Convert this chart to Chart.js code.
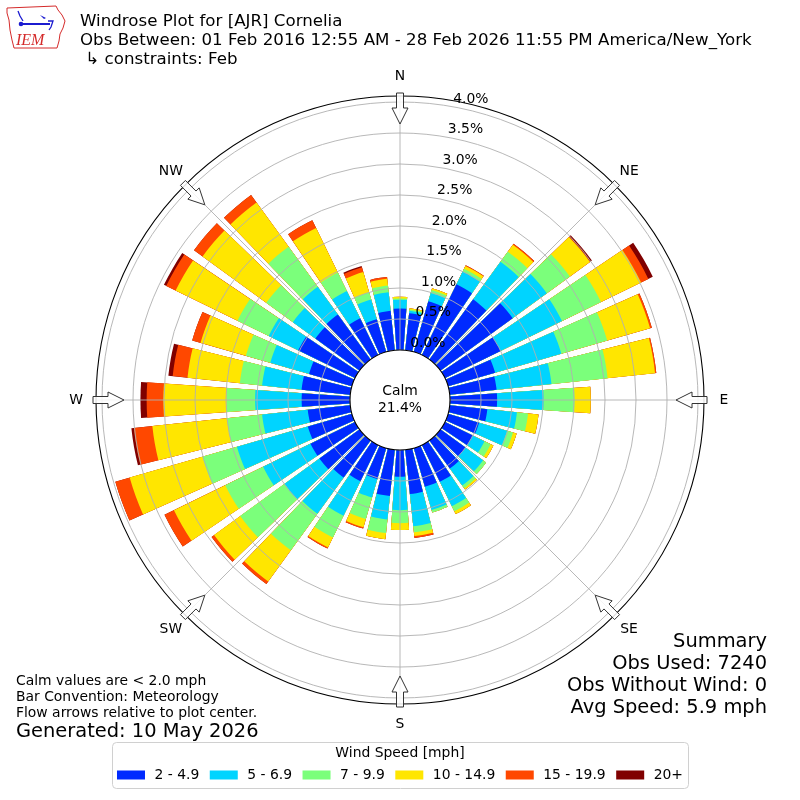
<!DOCTYPE html>
<html><head><meta charset="utf-8">
<script src="https://cdn.jsdelivr.net/npm/chart.js@4.4.1/dist/chart.umd.min.js"></script>
<style>html,body{margin:0;padding:0;background:#fff;}canvas{display:block;}</style>
</head><body>
<canvas id="c" width="800" height="800" style="width:800px;height:800px"></canvas>
<script>
// ---------------- data ----------------
const directions = [0,10,20,30,40,50,60,70,80,90,100,110,120,130,140,150,160,170,180,190,200,210,220,230,240,250,260,270,280,290,300,310,320,330,340,350];
const speedBins = ['2 - 4.9','5 - 6.9','7 - 9.9','10 - 14.9','15 - 19.9','20+'];
const speedColors = ['#002aff','#00d4ff','#7bff7b','#ffe600','#ff4800','#800000'];
// percent of observations per direction (N, 10°, ... 350°)
const pct_2_5   = [0.67,0.60,0.85,1.27,1.20,1.44,1.00,0.79,0.76,0.76,0.61,0.52,0.50,0.50,0.56,0.66,0.65,0.72,0.43,0.75,0.52,0.65,0.74,0.80,0.80,0.74,0.69,0.78,0.79,0.72,1.02,0.88,0.90,0.66,0.55,0.64];
const pct_5_7   = [0.14,0.04,0.14,0.23,0.75,0.68,1.10,1.11,0.89,0.75,0.48,0.47,0.21,0.35,0.34,0.44,0.39,0.52,0.54,0.38,0.31,0.62,0.72,0.70,0.85,1.19,0.74,0.75,0.64,0.65,0.53,0.45,0.55,0.49,0.33,0.30];
const pct_7_10  = [0.02,0.02,0.05,0.05,0.20,0.46,0.70,0.77,0.91,0.50,0.18,0.10,0.11,0.06,0.05,0.09,0.04,0.10,0.21,0.22,0.36,0.39,0.73,0.88,0.68,0.58,0.57,0.46,0.36,0.41,0.56,0.53,0.80,0.33,0.12,0.11];
const pct_10_15 = [0.03,0.02,0.03,0.05,0.14,0.40,0.72,0.72,0.77,0.26,0.17,0.06,0.05,0.00,0.03,0.05,0.00,0.06,0.11,0.10,0.14,0.18,0.62,0.52,0.92,1.22,1.21,1.02,0.85,0.76,1.11,1.27,0.88,0.80,0.34,0.11];
const pct_15_20 = [0.00,0.00,0.00,0.01,0.02,0.01,0.13,0.03,0.02,0.00,0.00,0.00,0.00,0.00,0.00,0.00,0.00,0.03,0.00,0.00,0.02,0.02,0.05,0.05,0.17,0.24,0.30,0.27,0.24,0.14,0.17,0.17,0.15,0.14,0.08,0.03];
const pct_20p   = [0.00,0.00,0.00,0.00,0.00,0.03,0.08,0.00,0.00,0.00,0.00,0.00,0.00,0.00,0.00,0.00,0.00,0.00,0.00,0.00,0.00,0.00,0.00,0.00,0.00,0.00,0.04,0.10,0.07,0.00,0.04,0.00,0.00,0.00,0.02,0.00];
const radialTicks = [0,0.5,1.0,1.5,2.0,2.5,3.0,3.5,4.0];
const compassLabels = ['N','NE','E','SE','S','SW','W','NW'];
const calmPct = 21.4;
const titleLines = ['Windrose Plot for [AJR] Cornelia','Obs Between: 01 Feb 2016 12:55 AM - 28 Feb 2026 11:55 PM America/New_York',' \u21b3 constraints: Feb'];
const noteLines = ['Calm values are < 2.0 mph','Bar Convention: Meteorology','Flow arrows relative to plot center.'];
const generatedText = 'Generated: 10 May 2026';
const summaryLines = ['Summary','Obs Used: 7240','Obs Without Wind: 0','Avg Speed: 5.9 mph'];
const legendTitle = 'Wind Speed [mph]';

// ---------------- build chart data ----------------
const BAR_DEG = 8, GAP_DEG = 2;
const series = [pct_2_5, pct_5_7, pct_7_10, pct_10_15, pct_15_20, pct_20p];
const cumulative = series.map((_, k) => directions.map((_, d) => {
  let s = 0; for (let j = 0; j <= k; j++) s += series[j][d]; return s;
}));
const labels = [];
directions.forEach(d => { labels.push(d + '\u00b0'); labels.push(''); });
const datasets = speedBins.map((name, k) => ({
  label: name,
  data: cumulative[k].flatMap(v => [v, 0]),
  backgroundColor: ctx => (ctx.dataIndex % 2) ? 'rgba(0,0,0,0)' : speedColors[k],
  borderWidth: 0,
  angle: ctx => (ctx.dataIndex % 2) ? GAP_DEG : BAR_DEG
}));

const FONT = '"DejaVu Sans", sans-serif';
const RMIN = -50 / 62, RMAX = 254 / 62;

const decor = {
  id: 'decor',
  afterDraw(chart) {
    const c = chart.ctx, s = chart.scales.r;
    const cx = s.xCenter, cy = s.yCenter;
    const R = v => s.getDistanceFromCenterForValue(v);
    const rMax = s.drawingArea;
    const rad = d => d * Math.PI / 180;
    const pt = (deg, r) => [cx + r * Math.sin(rad(deg)), cy - r * Math.cos(rad(deg))];
    c.save();
    // angle grid lines
    c.strokeStyle = '#b0b0b0'; c.lineWidth = 0.9;
    for (let k = 0; k < 8; k++) {
      const [x, y] = pt(k * 45, rMax);
      c.beginPath(); c.moveTo(cx, cy); c.lineTo(x, y); c.stroke();
    }
    // outer spine
    c.strokeStyle = '#000'; c.lineWidth = 1.1;
    c.beginPath(); c.arc(cx, cy, rMax, 0, 2 * Math.PI); c.stroke();
    // calm circle
    const r0 = R(0);
    c.fillStyle = '#fff';
    c.beginPath(); c.arc(cx, cy, r0, 0, 2 * Math.PI); c.fill();
    c.strokeStyle = '#000'; c.lineWidth = 1.1; c.stroke();
    c.fillStyle = '#000'; c.font = '13.9px ' + FONT; c.textAlign = 'center'; c.textBaseline = 'middle';
    c.fillText('Calm', cx, cy - 8.5);
    c.fillText(calmPct.toFixed(1) + '%', cx, cy + 8.5);
    // radial tick labels
    c.textAlign = 'left';
    radialTicks.forEach(v => {
      const [x, y] = pt(10, R(v));
      c.fillText(v.toFixed(1) + '%', x + 1.5, y - 7.6);
    });
    // compass arrows & labels
    compassLabels.forEach((lab, k) => {
      const th = rad(k * 45);
      const u = [Math.sin(th), -Math.cos(th)], w = [Math.cos(th), Math.sin(th)];
      const P = (r, o) => [cx + r * u[0] + o * w[0], cy + r * u[1] + o * w[1]];
      const poly = [P(307, -3.5), P(307, 3.5), P(292, 3.5), P(292, 8), P(276, 0), P(292, -8), P(292, -3.5)];
      c.beginPath(); poly.forEach((p, i) => i ? c.lineTo(p[0], p[1]) : c.moveTo(p[0], p[1])); c.closePath();
      c.fillStyle = 'rgba(255,255,255,0.85)'; c.fill();
      c.strokeStyle = '#333'; c.lineWidth = 1; c.stroke();
      const [lx, ly] = pt(k * 45, 324);
      c.fillStyle = '#000'; c.textAlign = 'center'; c.textBaseline = 'middle'; c.font = '13.9px ' + FONT;
      c.fillText(lab, lx, ly);
    });
    // title
    c.textAlign = 'left'; c.textBaseline = 'alphabetic'; c.fillStyle = '#000';
    c.font = '16.67px ' + FONT;
    titleLines.forEach((t, i) => c.fillText(t, 80, 25.5 + i * 19));
    // logo
    c.strokeStyle = '#d42a2a'; c.lineWidth = 1;
    const iowa = [[7,8],[56,6],[58,10],[62,15],[65,21],[63,28],[60,34],[59,41],[57,48],[14,48],[12,40],[10,30],[9,20],[7,13]];
    c.beginPath(); iowa.forEach((p, i) => i ? c.lineTo(p[0], p[1]) : c.moveTo(p[0], p[1])); c.closePath(); c.stroke();
    c.strokeStyle = '#1b1bd0'; c.fillStyle = '#1b1bd0'; c.lineWidth = 2;
    c.beginPath(); c.moveTo(22, 24); c.lineTo(50, 24); c.stroke();
    c.lineWidth = 1.3;
    c.beginPath(); c.moveTo(18, 11); c.lineTo(20, 16); c.lineTo(23, 21); c.stroke();
    c.beginPath(); c.moveTo(40, 15); c.lineTo(46, 18); c.lineTo(44, 19); c.closePath(); c.fill();
    c.beginPath(); c.moveTo(48, 21); c.lineTo(53, 21); c.lineTo(51, 27); c.lineTo(49, 30); c.stroke();
    c.beginPath(); c.arc(21, 24, 2.3, 0, 2 * Math.PI); c.fill();
    c.fillStyle = '#d42a2a'; c.font = 'italic 16px "Liberation Serif", serif';
    c.fillText('IEM', 16, 45);
    // bottom-left notes
    c.fillStyle = '#000'; c.font = '13.9px ' + FONT;
    noteLines.forEach((t, i) => c.fillText(t, 16, 685 + i * 16.2));
    c.font = '19.44px ' + FONT;
    c.fillText(generatedText, 16, 737);
    // summary
    c.textAlign = 'right';
    summaryLines.forEach((t, i) => c.fillText(t, 767, 647 + i * 22));
    // legend
    const lx0 = 112.5, ly0 = 742.5, lw = 576, lh = 46;
    c.beginPath();
    if (c.roundRect) c.roundRect(lx0, ly0, lw, lh, 4); else c.rect(lx0, ly0, lw, lh);
    c.fillStyle = 'rgba(255,255,255,0.8)'; c.fill();
    c.strokeStyle = '#d0d0d0'; c.lineWidth = 1; c.stroke();
    c.fillStyle = '#000'; c.font = '13.9px ' + FONT; c.textAlign = 'center'; c.textBaseline = 'middle';
    c.fillText(legendTitle, 400, 753);
    const boxW = 28, boxH = 9, pad = 9.5, colSp = 10.5;
    const widths = speedBins.map(t => c.measureText(t).width);
    const total = widths.reduce((a, b) => a + b, 0) + speedBins.length * (boxW + pad) + (speedBins.length - 1) * colSp;
    let x = 400 - total / 2;
    c.textAlign = 'left';
    speedBins.forEach((t, k) => {
      c.fillStyle = speedColors[k]; c.fillRect(x, 770.5, boxW, boxH);
      c.fillStyle = '#000'; c.fillText(t, x + boxW + pad, 775);
      x += boxW + pad + widths[k] + colSp;
    });
    c.restore();
  }
};

new Chart(document.getElementById('c'), {
  type: 'polarArea',
  data: { labels, datasets },
  options: {
    responsive: false,
    animation: false,
    events: [],
    layout: { padding: 96 },
    plugins: { legend: { display: false }, tooltip: { enabled: false } },
    scales: {
      r: {
        min: RMIN, max: RMAX,
        startAngle: -BAR_DEG / 2,
        ticks: { display: false },
        grid: { color: '#b0b0b0', lineWidth: 0.9, z: 1 },
        angleLines: { display: false },
        pointLabels: { display: false },
        afterBuildTicks: sc => { sc.ticks = radialTicks.map(v => ({ value: v })); }
      }
    }
  },
  plugins: [decor]
});
</script>
</body></html>
